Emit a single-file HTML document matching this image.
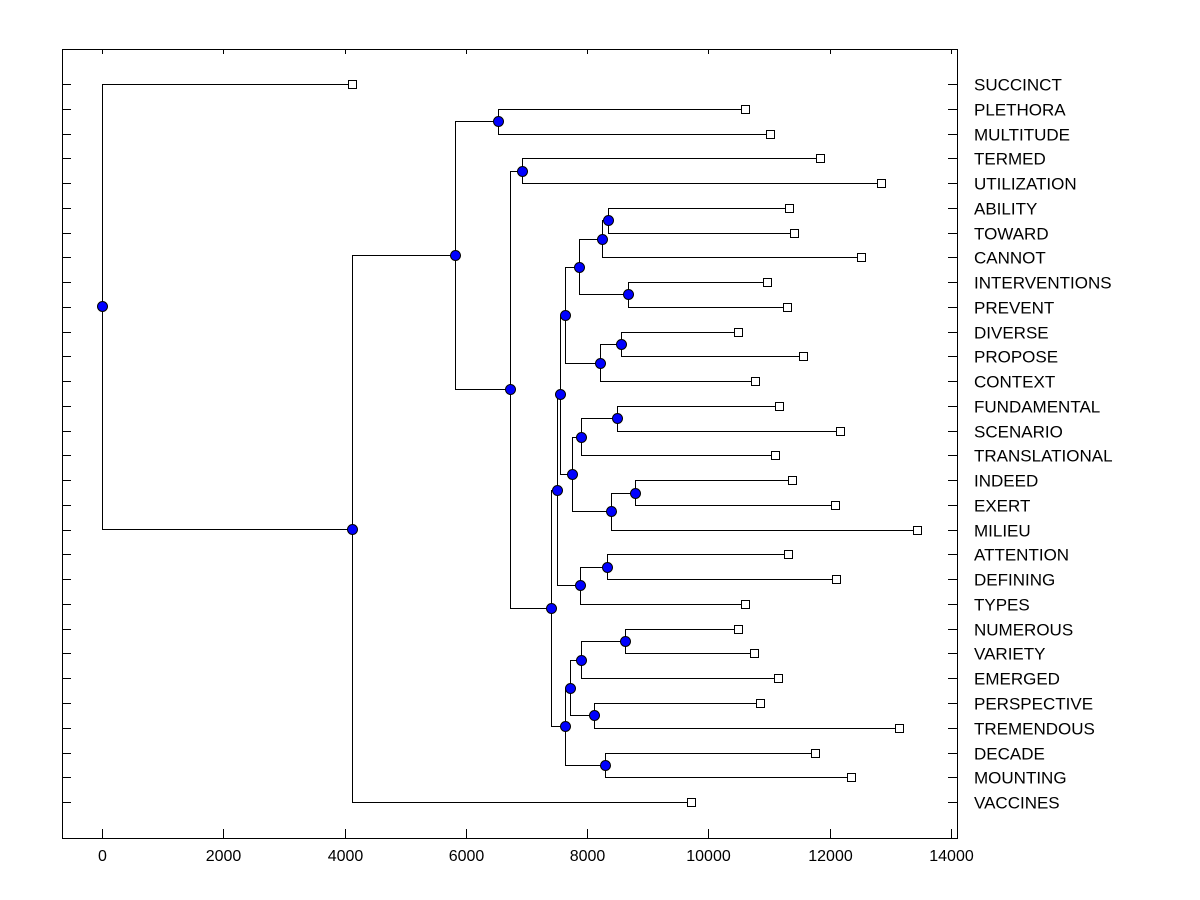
<!DOCTYPE html>
<html><head><meta charset="utf-8"><style>
body{margin:0;background:#fff}
svg{display:block;font-family:"Liberation Sans",Arial,sans-serif}
</style></head><body>
<svg id="c" width="1200" height="900"></svg>
<script>
const leafNames=["SUCCINCT","PLETHORA","MULTITUDE","TERMED","UTILIZATION","ABILITY","TOWARD","CANNOT","INTERVENTIONS","PREVENT","DIVERSE","PROPOSE","CONTEXT","FUNDAMENTAL","SCENARIO","TRANSLATIONAL","INDEED","EXERT","MILIEU","ATTENTION","DEFINING","TYPES","NUMEROUS","VARIETY","EMERGED","PERSPECTIVE","TREMENDOUS","DECADE","MOUNTING","VACCINES"];
const leafValues=[4123,10604,11016,11840,12846,11329,11412,12516,10966,11296,10488,11560,10768,11164,12170,11098,11379,12088,13440,11313,12104,10604,10488,10752,11148,10851,13143,11758,12352,9713];
const mergeLeft=[1,3,5,32,8,33,10,36,35,13,39,16,41,40,38,19,45,44,22,48,25,49,27,51,47,31,30,56,0];
const mergeRight=[2,4,6,7,9,34,11,12,37,14,15,17,18,42,43,20,21,46,23,24,26,50,28,52,53,54,55,29,57];
const mergeHeight=[6530,6926,8344,8245,8674,7866,8559,8212,7635,8493,7899,8790,8394,7751,7553,8328,7883,7503,8625,7899,8113,7718,8295,7635,7404,6728,5821,4123,0];
const xTicks=[0,2000,4000,6000,8000,10000,12000,14000];

const svg=document.getElementById('c');const NS='http://www.w3.org/2000/svg';
const X0=102,X1=951,L=62,R=957,T=49,B=838;
const x=v=>X0+(v/14000)*(X1-X0);
const leafY=i=>84+i*24.76;
function mk(tag,attrs,parent){const e=document.createElementNS(NS,tag);for(const k in attrs)e.setAttribute(k,attrs[k]);(parent||svg).appendChild(e);return e;}
const frame=mk('rect',{x:L+0.5,y:T+0.5,width:R-L,height:B-T,fill:'none',stroke:'#000'});


xTicks.forEach(t=>{
  const g=mk('g',{});
  
  
  const px=Math.round(x(t))+0.5;
  mk('line',{x1:px,y1:B,x2:px,y2:B-9,stroke:'#000'},g);
  mk('line',{x1:px,y1:T,x2:px,y2:T+5,stroke:'#000'},g);
  const tx=mk('text',{x:px,y:861,'text-anchor':'middle','font-size':'16'},g);tx.textContent=t;
});
const pos=[];
leafValues.forEach((v,i)=>pos.push({x:x(v),y:leafY(i)}));
mergeHeight.forEach((h,k)=>{const a=pos[mergeLeft[k]],b=pos[mergeRight[k]];pos.push({x:x(h),y:(a.y+b.y)/2});});
mergeHeight.forEach((h,k)=>{
  const a=pos[mergeLeft[k]],b=pos[mergeRight[k]],n=pos[30+k];
  const p=mk('path',{d:`M${a.x},${Math.round(a.y)+0.5}H${Math.round(n.x)+0.5}V${Math.round(b.y)+0.5}H${b.x}`,fill:'none',stroke:'#000'});
  
  
});
leafNames.forEach((nm,i)=>{
  const y=Math.round(leafY(i))+0.5;
  const g=mk('g',{});
  
  
  mk('line',{x1:L,y1:y,x2:L+9,y2:y,stroke:'#000'},g);
  mk('line',{x1:R-9,y1:y,x2:R,y2:y,stroke:'#000'},g);
  mk('rect',{x:Math.round(pos[i].x)-3.5,y:y-4,width:8,height:8,fill:'#fff',stroke:'#000'},g);
  const t=mk('text',{x:974,y:y+6,'font-size':'17'},g);t.textContent=nm;
});
mergeHeight.forEach((h,k)=>{
  const n=pos[30+k];
  const c=mk('circle',{cx:Math.round(n.x)+0.5,cy:Math.round(n.y)+0.5,r:5,fill:'#0000ff',stroke:'#000'});
  
  
});
</script>
</body></html>
